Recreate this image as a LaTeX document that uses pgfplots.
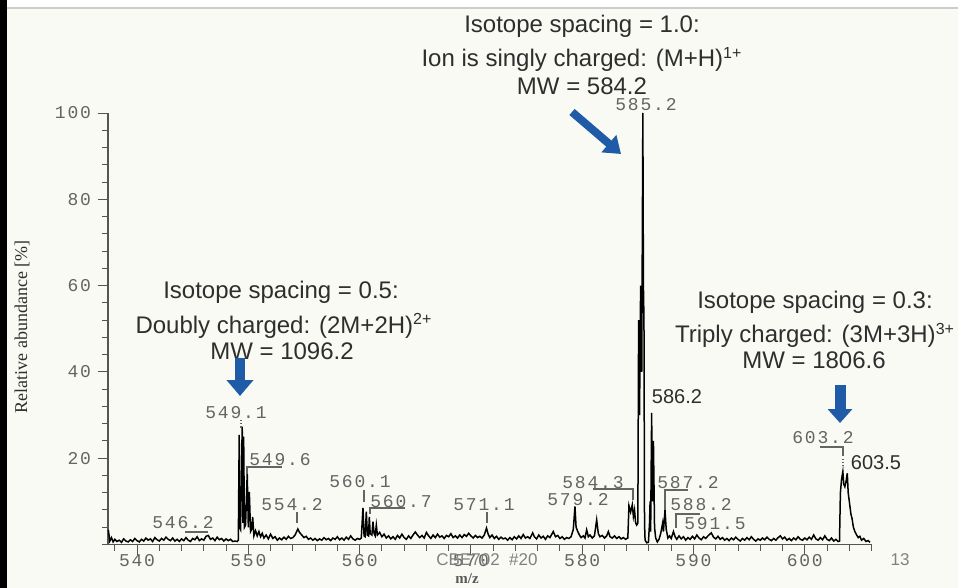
\documentclass[border=0pt]{standalone}
\usepackage{pgfplots}
\pgfplotsset{compat=1.18}
\usepackage{fontspec}
\setmainfont{Liberation Sans}
\setmonofont{Liberation Mono}
\newfontfamily\seriffont{Liberation Serif}
\newfontfamily\lmono[LetterSpace=10]{Liberation Mono}
\usetikzlibrary{arrows.meta}
\definecolor{bg}{HTML}{FAFAF4}
\definecolor{arrowblue}{HTML}{1F5BA6}
\definecolor{txt}{HTML}{2E2E2E}
\definecolor{mono}{HTML}{646464}
\definecolor{axc}{HTML}{555555}
\newcommand{\ann}{\fontsize{12pt}{14pt}\selectfont}
\newcommand{\pk}{\lmono\fontsize{9pt}{10pt}\selectfont}
\begin{document}
\begin{tikzpicture}
\path[use as bounding box, fill=bg] (0,0) rectangle (479pt,-294pt);
\begin{axis}[
  at={(54pt,-272.25pt)}, anchor=south west,
  scale only axis, width=382pt, height=215.75pt,
  xmin=537.39, xmax=606.04, ymin=0, ymax=100,
  axis x line=bottom, axis y line=left,
  axis line style={-, draw=axc, line width=0.6pt},
  xtick={540,550,...,600}, ytick={20,40,...,100},
  minor xtick={538,540,...,606}, minor ytick={0,4,...,100},
  tick align=outside, major tick length=5pt, minor tick length=3pt,
  tick style={draw=axc, line width=0.5pt},
  /pgf/number format/assume math mode=true,
  tick label style={font=\pk, text=mono},
  yticklabel style={xshift=0pt},
  xticklabel style={yshift=3.5pt},
  clip=false,
]
\addplot[black, line width=0.75pt] coordinates {
(537.42,3.4)(537.55,0.8)(537.7,1.6)(537.85,0.6)(538.0,1.2)(538.2,0.7)(538.4,1.0)(538.6,0.5)(538.8,1.3)(539.0,0.8)
(539.2,0.6)(539.4,1.1)(539.6,0.7)(539.8,1.4)(540.0,0.9)(540.2,0.6)(540.4,1.2)(540.6,0.8)(540.8,1.5)(541.0,1.0)
(541.2,1.3)(541.4,0.7)(541.6,1.6)(541.8,1.1)(542.0,0.8)(542.2,1.4)(542.4,1.0)(542.6,1.7)(542.8,1.2)(543.0,0.9)
(543.2,1.5)(543.4,0.8)(543.6,1.2)(543.8,0.7)(544.0,1.3)(544.2,0.9)(544.4,1.6)(544.6,1.0)(544.8,0.7)(545.0,1.4)
(545.2,1.1)(545.4,1.8)(545.6,0.9)(545.8,1.3)(546.0,1.0)(546.2,1.9)(546.4,2.1)(546.6,1.2)(546.8,1.5)(547.0,0.9)
(547.2,1.7)(547.4,1.1)(547.6,1.4)(547.8,0.8)(548.0,1.3)(548.2,0.9)(548.4,1.2)(548.6,0.7)(548.8,0.8)(549.0,0.7)
(549.1,1.0)(549.18,25.4)(549.22,4.0)(549.3,3.5)(549.45,27.3)(549.52,5.0)(549.58,25.0)(549.65,4.0)(549.75,4.5)(549.9,16.5)
(550.0,4.0)(550.09,12.2)(550.2,3.0)(550.3,3.5)(550.39,6.4)(550.5,2.0)(550.65,3.2)(550.8,2.0)(550.95,3.0)(551.1,1.8)
(551.25,2.6)(551.4,1.5)(551.6,2.2)(551.8,1.3)(552.0,2.4)(552.2,1.4)(552.4,1.8)(552.6,1.0)(552.8,1.5)(553.0,1.1)
(553.2,1.7)(553.4,1.2)(553.6,1.9)(553.8,1.4)(554.0,1.6)(554.2,2.2)(554.45,3.6)(554.6,2.8)(554.8,2.2)(555.0,1.6)
(555.2,1.9)(555.4,1.2)(555.6,1.5)(555.8,1.0)(556.0,1.4)(556.2,0.9)(556.4,1.3)(556.6,1.0)(556.8,1.6)(557.0,1.1)
(557.2,1.4)(557.4,0.9)(557.6,1.5)(557.8,1.2)(558.0,1.8)(558.2,1.1)(558.4,1.5)(558.6,1.0)(558.8,1.7)(559.0,1.2)
(559.2,2.0)(559.4,1.3)(559.6,1.0)(559.8,1.4)(560.0,1.2)(560.15,1.5)(560.3,8.5)(560.4,2.0)(560.5,1.8)(560.6,7.6)
(560.7,2.2)(560.8,2.0)(560.87,6.4)(560.95,2.5)(561.1,2.2)(561.2,5.3)(561.3,2.5)(561.4,2.0)(561.5,4.5)(561.6,2.2)
(561.8,2.8)(562.0,1.8)(562.2,2.4)(562.4,1.5)(562.6,2.0)(562.8,1.3)(563.0,1.8)(563.2,1.2)(563.4,2.1)(563.6,1.5)
(563.8,2.4)(564.0,1.6)(564.2,1.2)(564.4,2.0)(564.6,1.4)(564.8,2.2)(565.0,2.9)(565.2,2.2)(565.4,1.6)(565.6,2.1)
(565.8,1.5)(566.0,2.8)(566.2,2.0)(566.4,1.4)(566.6,2.2)(566.8,1.6)(567.0,2.4)(567.2,1.7)(567.4,2.0)(567.6,1.4)
(567.8,2.1)(568.0,1.8)(568.2,2.5)(568.4,1.6)(568.6,2.0)(568.8,1.5)(569.0,2.2)(569.2,1.6)(569.4,2.3)(569.6,1.9)
(569.8,2.6)(570.0,2.0)(570.2,1.5)(570.4,2.1)(570.6,1.6)(570.8,1.9)(571.0,1.5)(571.2,2.2)(571.4,3.8)(571.55,2.4)
(571.7,1.6)(571.9,2.2)(572.1,1.4)(572.3,1.9)(572.5,1.2)(572.7,1.7)(572.9,1.3)(573.1,1.5)(573.3,1.0)(573.5,1.6)
(573.7,1.1)(573.9,1.8)(574.1,1.3)(574.3,2.0)(574.5,1.4)(574.7,2.3)(574.9,1.5)(575.1,1.8)(575.3,1.4)(575.55,2.7)
(575.7,1.8)(575.9,1.3)(576.1,2.2)(576.3,1.5)(576.5,1.9)(576.7,1.2)(576.9,2.0)(577.1,1.6)(577.4,3.0)(577.6,1.8)
(577.8,2.1)(578.0,1.4)(578.2,1.8)(578.4,1.2)(578.6,1.6)(578.8,1.4)(579.0,1.8)(579.2,3.5)(579.35,8.8)(579.45,4.0)
(579.6,3.0)(579.75,2.2)(579.9,1.6)(580.1,2.0)(580.25,1.5)(580.4,3.4)(580.55,1.8)(580.7,2.2)(580.9,1.5)(581.1,2.0)
(581.3,5.7)(581.45,2.5)(581.6,1.8)(581.8,2.1)(582.0,1.5)(582.2,2.0)(582.35,3.0)(582.5,1.8)(582.7,1.5)(582.9,2.0)
(583.1,1.4)(583.3,1.8)(583.5,1.3)(583.7,1.6)(583.9,1.2)(584.0,1.4)(584.1,1.5)(584.2,9.0)(584.35,7.5)(584.5,9.2)
(584.6,6.5)(584.7,8.0)(584.8,5.0)(584.9,4.5)(585.0,5.0)(585.07,52.0)(585.15,30.0)(585.25,60.0)(585.35,40.0)(585.45,100.0)
(585.5,60.0)(585.55,52.0)(585.6,5.0)(585.65,1.0)(585.8,0.4)(585.95,0.5)(586.05,5.0)(586.1,10.0)(586.15,3.0)(586.24,30.5)
(586.3,10.0)(586.4,24.0)(586.5,4.0)(586.6,1.5)(586.75,0.6)(586.9,1.2)(587.05,2.5)(587.23,5.0)(587.3,3.0)(587.44,8.0)
(587.55,3.5)(587.7,1.5)(587.85,2.0)(588.0,1.4)(588.2,3.0)(588.35,1.8)(588.5,1.2)(588.7,2.0)(588.9,1.3)(589.1,1.8)
(589.3,1.0)(589.5,1.6)(589.7,1.2)(589.9,1.9)(590.1,1.3)(590.3,2.2)(590.5,1.5)(590.7,1.1)(590.9,1.8)(591.1,1.4)
(591.3,2.0)(591.6,2.7)(591.8,1.7)(592.0,1.3)(592.2,1.9)(592.4,1.2)(592.6,1.6)(592.8,1.0)(593.0,1.4)(593.2,0.9)
(593.4,1.5)(593.6,1.1)(593.8,1.7)(594.0,1.2)(594.2,0.8)(594.4,1.4)(594.6,1.0)(594.8,1.6)(595.0,1.1)(595.2,1.8)
(595.4,1.2)(595.6,0.8)(595.8,1.3)(596.0,1.0)(596.2,1.5)(596.4,1.1)(596.6,1.7)(596.8,1.2)(597.0,0.9)(597.2,1.4)
(597.4,1.0)(597.6,1.6)(597.8,2.0)(598.0,1.3)(598.2,1.7)(598.4,1.0)(598.6,1.4)(598.8,0.9)(599.0,1.5)(599.2,1.1)
(599.4,1.8)(599.6,1.2)(599.8,1.0)(600.0,1.5)(600.2,1.1)(600.4,1.7)(600.6,1.2)(600.8,2.2)(601.0,1.3)(601.2,1.0)
(601.4,1.6)(601.6,1.1)(601.8,2.0)(602.0,1.2)(602.2,0.9)(602.4,1.5)(602.6,0.8)(602.8,1.2)(603.0,0.7)(603.12,0.8)
(603.2,12.0)(603.3,15.0)(603.42,16.9)(603.5,14.0)(603.6,13.4)(603.7,14.5)(603.82,16.5)(603.9,12.0)(604.0,10.0)(604.06,8.8)
(604.15,7.0)(604.25,6.0)(604.36,4.1)(604.5,3.0)(604.66,2.2)(604.8,1.6)(604.95,1.9)(605.1,1.0)(605.3,1.4)(605.5,0.7)
(605.7,0.9)(605.86,0.5)
};
\end{axis}
\begin{scope}[x=0.5pt,y=-0.5pt]
% slide frame
\fill[black] (0,0) rectangle (7,588);
\fill[white] (7,0) rectangle (958,7);
\draw[gray!40, line width=1pt] (7,8) -- (958,8);
% axis titles
\node[rotate=90, font=\seriffont\fontsize{9pt}{10pt}\selectfont, text=txt] at (22,327) {Relative abundance [\%]};
\node[font=\seriffont\bfseries\fontsize{7.5pt}{9pt}\selectfont, text=txt!80] at (467,579) {m/z};
% slide footer
\node[font=\fontsize{8.5pt}{10pt}\selectfont, text=gray] at (487,560) {CBE702\ \ \#20};
\node[font=\fontsize{8.5pt}{10pt}\selectfont, text=gray] at (900,560) {13};
% annotations
\node[font=\ann, text=txt, anchor=base] at (582,33) {Isotope spacing = 1.0:};
\node[font=\ann, text=txt, anchor=base] at (582,67) {Ion is singly charged: (M+H)\textsuperscript{1+}};
\node[font=\ann, text=txt, anchor=base] at (582,95) {MW = 584.2};
\node[font=\ann, text=txt, anchor=base] at (281,299) {Isotope spacing = 0.5:};
\node[font=\ann, text=txt, anchor=base] at (284,333) {Doubly charged: (2M+2H)\textsuperscript{2+}};
\node[font=\ann, text=txt, anchor=base] at (282,359) {MW = 1096.2};
\node[font=\ann, text=txt, anchor=base] at (815,308) {Isotope spacing = 0.3:};
\node[font=\ann, text=txt, anchor=base] at (815,343) {Triply charged: (3M+3H)\textsuperscript{3+}};
\node[font=\ann, text=txt, anchor=base] at (814,368) {MW = 1806.6};
% blue arrows
\draw[arrowblue, line width=5pt, -{Triangle[length=8pt,width=13pt]}] (240,358) -- (240,396);
\draw[arrowblue, line width=5.5pt, -{Triangle[length=7pt,width=12pt]}] (840,385) -- (840,423);
\draw[arrowblue, line width=4pt, -{Triangle[length=8pt,width=11pt]}] (572,112) -- (621,154);
% peak labels
\node[font=\pk, text=mono] at (646,105) {585.2};
\node[font=\pk, text=mono] at (236,413) {549.1};
\draw[mono, densely dotted, line width=0.6pt] (241,420) -- (241,428);
\node[font=\pk, text=mono] at (280,460) {549.6};
\draw[mono, line width=0.6pt] (282,467) -- (247,467) -- (247,474);
\node[font=\pk, text=mono] at (183,523) {546.2};
\draw[mono, line width=0.6pt] (185,532) -- (208,532);
\node[font=\pk, text=mono] at (292,505) {554.2};
\draw[mono, line width=0.6pt] (297,512) -- (297,523);
\node[font=\pk, text=mono] at (360,482) {560.1};
\draw[mono, line width=0.6pt] (364,490) -- (364,502);
\node[font=\pk, text=mono] at (401,502) {560.7};
\draw[mono, line width=0.6pt] (405,508) -- (370,508) -- (370,514);
\node[font=\pk, text=mono] at (484,505) {571.1};
\draw[mono, line width=0.6pt] (487,512) -- (487,523);
\node[font=\pk, text=mono] at (578,500) {579.2};
\node[font=\pk, text=mono] at (593,483) {584.3};
\draw[mono, line width=0.6pt] (593,489) -- (633,489) -- (633,500);
\node[font=\pk, text=mono] at (688,483) {587.2};
\draw[mono, line width=0.6pt] (688,490) -- (665,490) -- (665,510);
\node[font=\pk, text=mono] at (701,505) {588.2};
\draw[mono, line width=0.6pt] (700,514) -- (676,514) -- (676,528);
\node[font=\pk, text=mono] at (715,524) {591.5};
\node[font=\pk, text=mono] at (823,438) {603.2};
\draw[mono, line width=0.6pt] (820,447) -- (843,447) -- (843,456);
\draw[mono, densely dotted, line width=0.6pt] (843,459) -- (843,466);
\node[font=\fontsize{10pt}{12pt}\selectfont, text=txt] at (677,397) {586.2};
\node[font=\fontsize{10pt}{12pt}\selectfont, text=txt] at (876,463) {603.5};
\end{scope}
\end{tikzpicture}
\end{document}
